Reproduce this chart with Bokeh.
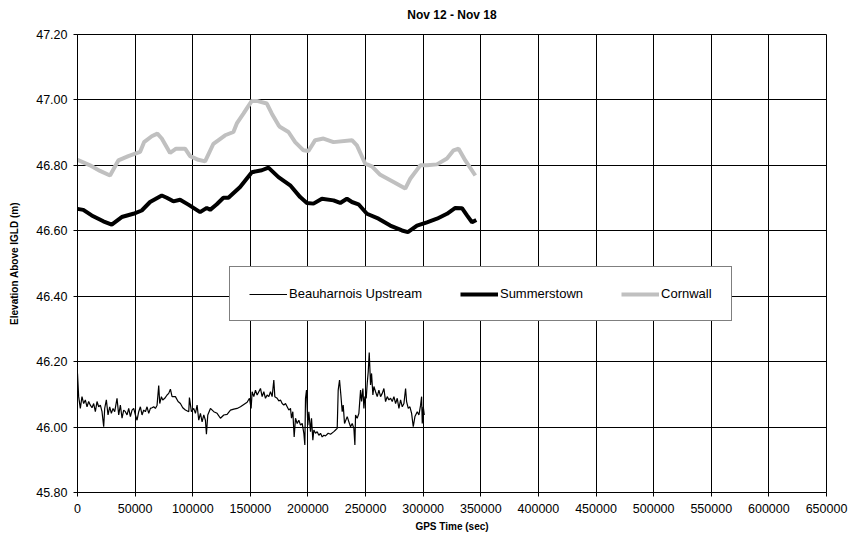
from bokeh.plotting import figure
from bokeh.models import Range1d, FixedTicker, NumeralTickFormatter, Legend, LegendItem, Title
from bokeh.embed import file_html
from bokeh.resources import INLINE

FONT = "Liberation Sans"

# Beauharnois Upstream water level (GPS seconds, metres above IGLD)
beau_t = [0, 1000, 2460, 3900, 5350, 6800, 8250, 9700, 11150, 12590, 14040, 15490,
          16940, 18380, 19830, 21280, 22730, 23600, 25040, 26490, 27940, 29380, 30830,
          32280, 34300, 35750, 37200, 38650, 40100, 41540, 42990, 44440, 45890, 47330,
          48780, 50230, 51680, 53120, 54570, 56020, 57470, 58910, 60360, 61810, 63260,
          64700, 66150, 67600, 69050, 70490, 71360, 72810, 73970, 75700, 77730,
          79180, 80625, 82070, 84970, 87280, 89310, 91340, 93650, 96550, 97130, 98860,
          100890, 102340, 103790, 105230, 106680, 108130, 109580, 111020, 111890, 113050,
          115370, 118260, 121160, 124050, 126950, 129840, 132740, 135630, 138530, 141420,
          144320, 147210, 149240, 150680, 151550, 153000, 154450, 155900,
          157340, 158790, 160240, 161690, 163130, 164580, 166030, 167480, 168920, 170370,
          171240, 173260, 174710, 176160, 177610, 179050, 180500, 181950, 183400, 184840,
          185710, 186870, 188030, 189190, 190630, 192080, 193530, 194980, 196430, 197290,
          197870, 198740, 199900, 200770, 202220, 203080, 204240, 205110, 206560, 208000,
          209450, 210900, 212350, 213790, 215240, 217560, 219590, 222480, 223930, 225380,
          226240, 227400, 228560, 229720, 230580, 231740, 234060,
          235510, 236960, 238400, 239850, 240720, 241300, 242750, 244190, 245640, 246510,
          247670, 248540, 249400, 250560, 251430, 252300, 253170, 254320, 255190, 256350,
          257220, 258670, 260110, 261560, 263010, 264460, 265910, 267350, 268800, 270250,
          271700, 273140, 274590, 276040, 277490, 278930, 280380, 281830, 283280, 284720,
          285590, 287050, 288490, 289940, 291380, 292830, 294860, 296300, 297750, 298620,
          299200, 300060, 300940]
beau_z = [46.164, 46.093, 46.057, 46.093, 46.072, 46.083, 46.062, 46.078, 46.067, 46.059,
          46.072, 46.047, 46.078, 46.062, 46.067, 46.047, 46.001, 46.057, 46.083, 46.037,
          46.062, 46.042, 46.057, 46.047, 46.088, 46.037, 46.067, 46.027, 46.052, 46.047,
          46.037, 46.057, 46.032, 46.052, 46.057, 46.037, 46.021, 46.047, 46.062, 46.037,
          46.052, 46.047, 46.062, 46.042, 46.057, 46.059, 46.062, 46.057, 46.067, 46.127,
          46.072, 46.093, 46.083, 46.088, 46.098,
          46.103, 46.116, 46.093, 46.093, 46.078, 46.072, 46.059, 46.052, 46.047, 46.090,
          46.047, 46.057, 46.042, 46.067, 46.021, 46.042, 46.016, 46.037, 46.021, 45.978,
          46.037, 46.057, 46.047, 46.042, 46.027, 46.037, 46.039, 46.052, 46.055, 46.057,
          46.062, 46.069, 46.076, 46.088, 46.057, 46.108, 46.093, 46.113, 46.098,
          46.108, 46.118, 46.093, 46.108, 46.088, 46.098, 46.093, 46.108, 46.093, 46.144,
          46.093, 46.088, 46.080, 46.083, 46.072, 46.067, 46.072, 46.062, 46.052, 46.057,
          46.027, 46.047, 45.970, 46.027, 46.011, 46.021, 46.006, 46.011, 45.981, 45.945,
          46.088, 46.113, 46.006, 46.047, 45.986, 46.027, 45.960, 45.991, 45.981, 45.986,
          45.975, 45.981, 45.970, 45.975, 45.973, 45.981, 45.978, 45.986, 45.991, 45.996,
          46.113, 46.144, 46.098, 46.047, 46.067, 46.011, 46.032,
          46.016, 46.001, 46.011, 45.996, 45.945, 46.037, 46.027, 46.042, 46.113, 46.078,
          46.118, 46.057, 46.093, 46.088, 46.134, 46.169, 46.228, 46.129, 46.164, 46.098,
          46.124, 46.108, 46.093, 46.113, 46.093, 46.103, 46.118, 46.078, 46.093, 46.083,
          46.088, 46.078, 46.093, 46.072, 46.088, 46.057, 46.083, 46.062, 46.072, 46.118,
          46.078, 46.057, 46.062, 46.042, 46.001, 46.032, 46.047, 46.037, 46.067, 46.093,
          46.011, 46.062, 46.037]

# Summerstown water level
summ_t = [0, 5040, 12330, 22410, 29700, 38390, 48460, 55760, 62970, 73130, 77470, 83200,
          89020, 96230, 106390, 112210, 115080, 120890, 126630, 130970, 141130, 151290,
          159980, 165710, 174400, 184560, 193240, 199060, 204790, 212090, 222160, 227980,
          233800, 238140, 243870, 251170, 261240, 271400, 281570, 286690, 294600, 303280,
          311960, 320650, 327860, 333670, 338020, 342360, 346100]
summ_z = [46.667, 46.664, 46.647, 46.629, 46.619, 46.642, 46.652, 46.662, 46.688, 46.708,
          46.701, 46.690, 46.695, 46.680, 46.657, 46.670, 46.664, 46.681, 46.701, 46.701,
          46.734, 46.779, 46.785, 46.793, 46.764, 46.739, 46.703, 46.685, 46.683, 46.698,
          46.693, 46.685, 46.698, 46.688, 46.681, 46.652, 46.637, 46.616, 46.601, 46.596,
          46.616, 46.626, 46.637, 46.652, 46.670, 46.669, 46.647, 46.626, 46.633]

# Cornwall water level
corn_t = [0, 10860, 19540, 28230, 35430, 44120, 54280, 57750, 64440, 69310, 73130, 80340,
          85550, 93370, 97710, 104920, 110730, 117940, 128100, 135310, 138260, 144000,
          146950, 151290, 155630, 164320, 168660, 174400, 175870, 183080, 188900, 196110,
          200450, 206270, 213480, 222160, 238140, 242480, 249690, 255510, 262720, 274270,
          284430, 288770, 297460, 303280, 311960, 320650, 326380, 330720, 336540, 345220]
corn_z = [46.817, 46.800, 46.783, 46.769, 46.815, 46.828, 46.841, 46.871, 46.889, 46.897,
          46.882, 46.838, 46.851, 46.851, 46.828, 46.817, 46.812, 46.866, 46.892, 46.902,
          46.928, 46.958, 46.974, 46.997, 46.997, 46.989, 46.958, 46.923, 46.917, 46.902,
          46.871, 46.846, 46.844, 46.877, 46.882, 46.871, 46.877, 46.861, 46.805, 46.797,
          46.771, 46.749, 46.729, 46.759, 46.800, 46.800, 46.803, 46.821, 46.846, 46.851,
          46.815, 46.769]

x_ticks = list(range(0, 650001, 50000))
y_ticks = [45.8, 46.0, 46.2, 46.4, 46.6, 46.8, 47.0, 47.2]

p = figure(width=865, height=543, output_backend="svg", toolbar_location=None,
           x_range=Range1d(0, 650000), y_range=Range1d(45.8, 47.2),
           min_border_left=77, min_border_right=39, min_border_top=34, min_border_bottom=51,
           background_fill_color="white", border_fill_color="white")

# blank band between the plot area and the heading, then the heading itself
p.title.text = ""
p.add_layout(Title(text=" ", text_font=FONT, text_font_size="10px", standoff=0), "above")
p.add_layout(Title(text="Nov 12 - Nov 18", align="center", vertical_align="bottom",
                   text_font=FONT, text_font_size="12px", text_font_style="bold",
                   text_color="black", standoff=0), "above")

p.outline_line_color = "black"
p.outline_line_width = 1

for ax in (p.xaxis[0], p.yaxis[0]):
    ax.axis_line_color = "black"
    ax.major_tick_line_color = "black"
    ax.major_tick_out = 4
    ax.major_tick_in = 0
    ax.minor_tick_line_color = None
    ax.major_label_text_font = FONT
    ax.major_label_text_font_size = "12.5px"
    ax.major_label_text_color = "black"
    ax.axis_label_text_font = FONT
    ax.axis_label_text_font_size = "10px"
    ax.axis_label_text_font_style = "bold"
    ax.axis_label_text_color = "black"

p.xaxis.ticker = FixedTicker(ticks=x_ticks)
p.xaxis.formatter = NumeralTickFormatter(format="0")
p.xaxis.axis_label = "GPS Time (sec)"
p.xaxis.major_label_standoff = 7
p.xaxis.axis_label_standoff = 5

p.yaxis.ticker = FixedTicker(ticks=y_ticks)
p.yaxis.formatter = NumeralTickFormatter(format="0.00")
p.yaxis.axis_label = "Elevation Above IGLD (m)"
p.yaxis.major_label_standoff = 6
p.yaxis.axis_label_standoff = 13

p.xgrid.ticker = FixedTicker(ticks=x_ticks)
p.ygrid.ticker = FixedTicker(ticks=y_ticks)
for g in (p.xgrid[0], p.ygrid[0]):
    g.grid_line_color = "black"
    g.grid_line_width = 1

r_beau = p.line(beau_t, beau_z, line_color="black", line_width=1.2)
r_summ = p.line(summ_t, summ_z, line_color="black", line_width=4)
r_corn = p.line(corn_t, corn_z, line_color="#c0c0c0", line_width=4)

legend = Legend(
    items=[LegendItem(label="Beauharnois Upstream", renderers=[r_beau]),
           LegendItem(label="Summerstown", renderers=[r_summ]),
           LegendItem(label="Cornwall", renderers=[r_corn])],
    orientation="horizontal", location=(152, 171), margin=0,
    padding=19, spacing=38, glyph_width=38, glyph_height=10,
    label_height=10, label_standoff=2,
    label_text_font=FONT, label_text_font_size="13px", label_text_color="black",
    border_line_color="black", border_line_width=1,
    background_fill_color="white", background_fill_alpha=1.0,
)
p.add_layout(legend, "center")

open("out.html", "w").write(file_html(p, INLINE))
